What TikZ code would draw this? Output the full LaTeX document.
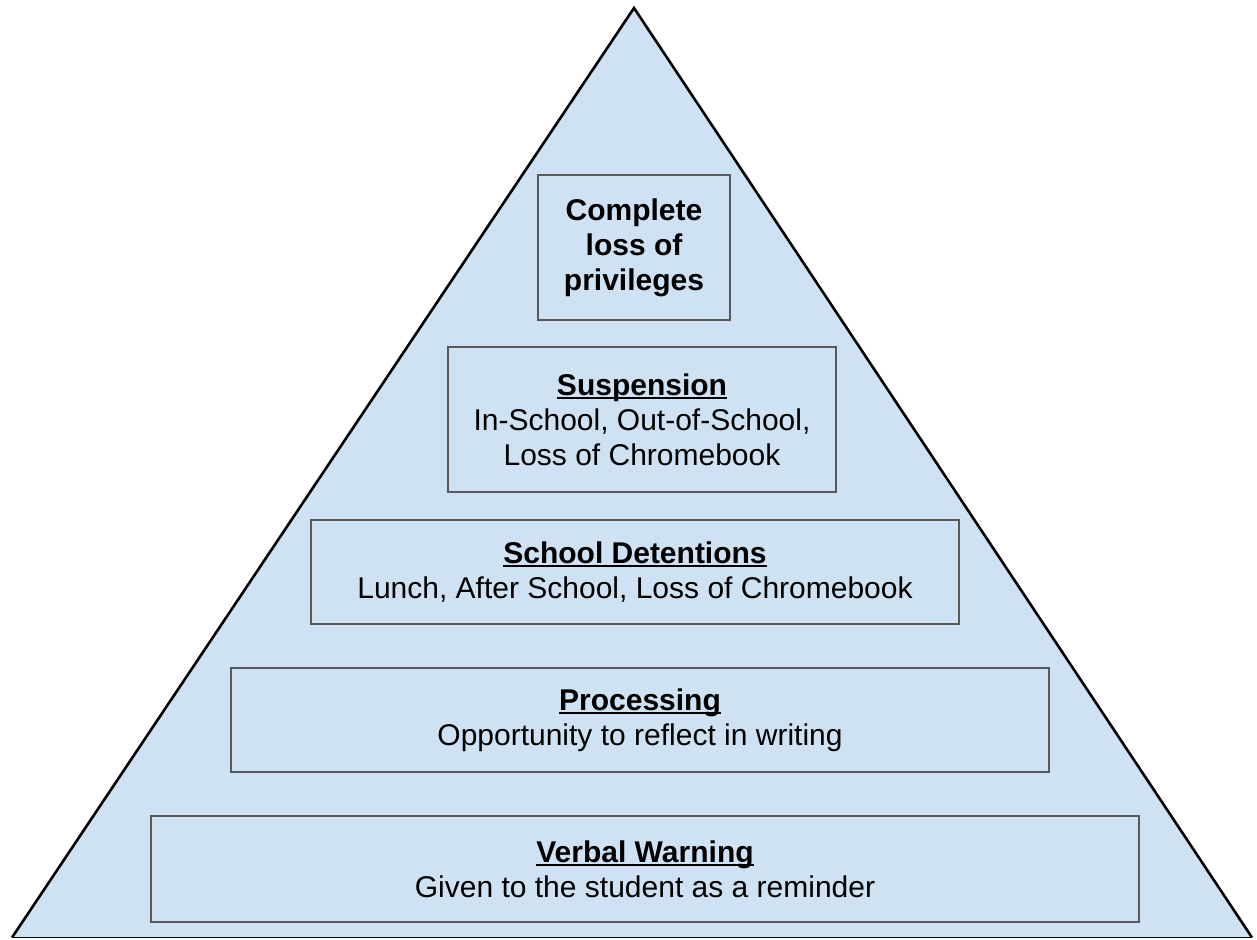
\documentclass[tikz,border=0pt]{standalone}
\usepackage{fontspec}
\setmainfont{Liberation Sans}
\definecolor{pyrfill}{HTML}{CFE2F3}
\definecolor{boxline}{HTML}{595959}
\definecolor{baseline}{HTML}{A9B8C6}
\newcommand\myul[1]{\setbox0\hbox{#1}\rlap{\rule[-4pt]{\wd0}{2pt}}\box0}
\tikzset{
  tier/.style={draw=boxline, line width=2pt, rectangle, inner sep=0pt,
    align=center, font=\fontsize{30}{35}\selectfont, text=black}
}
\begin{document}
\begin{tikzpicture}[x=1pt,y=-1pt]
\useasboundingbox (0,0) rectangle (1257,939);
\coordinate (apex) at (634,8);
\coordinate (bl) at (12,937.5);
\coordinate (br) at (1252,937.5);
\fill[pyrfill] (bl) -- (apex) -- (br) -- cycle;
\draw[baseline, line width=1pt] (bl) -- (br);
\draw[black, line width=2.6pt, line join=miter] (bl) -- (apex) -- (br);

\node[tier, minimum width=192pt, minimum height=145pt] (b1) at (634,247.5)
  {\bfseries Complete\\\bfseries loss of\\\bfseries privileges};
\node[tier, minimum width=388pt, minimum height=145pt] (b2) at (642,419.5)
  {\bfseries\myul{Suspension}\\In-School, Out-of-School,\\Loss of Chromebook};
\node[tier, minimum width=648pt, minimum height=104pt] (b3) at (635,572)
  {\bfseries\myul{School Detentions}\\Lunch, After School, Loss of Chromebook};
\node[tier, minimum width=818pt, minimum height=104pt] (b4) at (640,720)
  {\bfseries\myul{Processing}\\Opportunity to reflect in writing};
\node[tier, minimum width=988pt, minimum height=106pt] (b5) at (645,869)
  {\bfseries\myul{Verbal Warning}\\Given to the student as a reminder};
\end{tikzpicture}
\end{document}
